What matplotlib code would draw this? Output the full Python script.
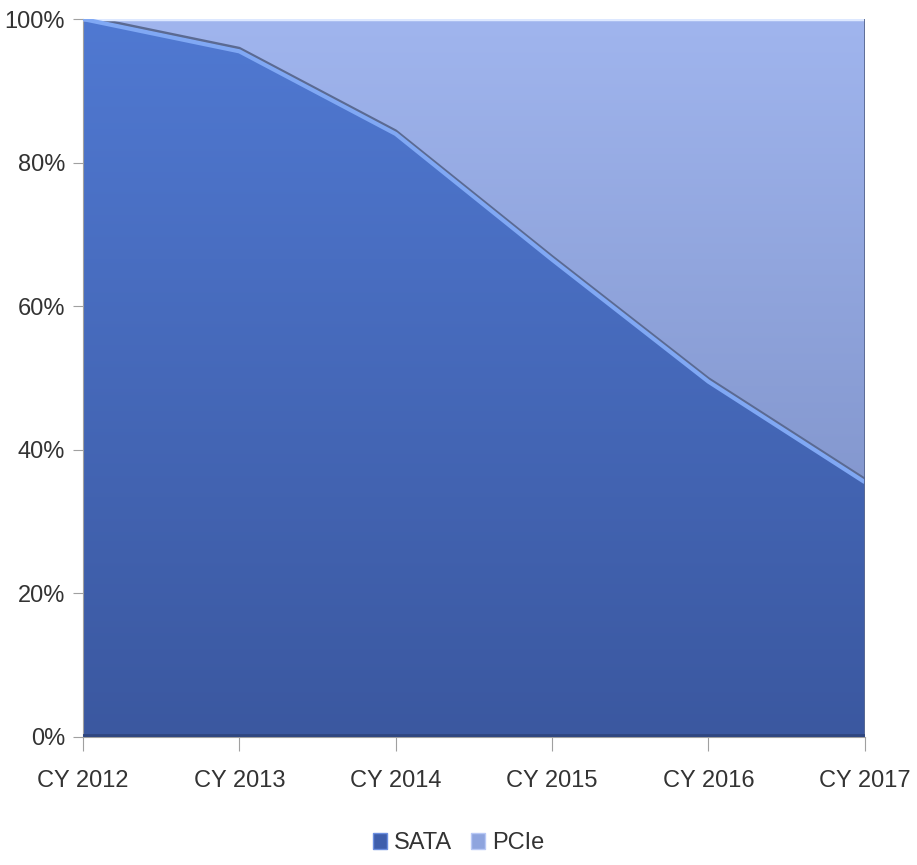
import matplotlib
matplotlib.use("Agg")
import matplotlib.pyplot as plt
import matplotlib.transforms as mtransforms
import numpy as np
from matplotlib.colors import LinearSegmentedColormap
from matplotlib.patches import Patch

plt.rcParams["font.family"] = ["Liberation Sans", "DejaVu Sans"]

years = ["CY 2012", "CY 2013", "CY 2014", "CY 2015", "CY 2016", "CY 2017"]
sata = [100, 95.5, 84, 66.5, 49.5, 35.5]
pcie = [0, 4.5, 16, 33.5, 50.5, 64.5]


def gradient_fill(ax, poly, top, bottom):
    cmap = LinearSegmentedColormap.from_list("g", [bottom, top])
    grad = np.linspace(0, 1, 256).reshape(-1, 1)
    im = ax.imshow(grad, cmap=cmap, aspect="auto", origin="lower",
                   extent=[0, len(years) - 1, 0, 100], zorder=poly.get_zorder())
    im.set_clip_path(poly.get_paths()[0], transform=ax.transData)
    poly.set_visible(False)


fig = plt.figure(figsize=(9.17, 8.65), dpi=100)
ax = fig.add_axes([0.0905, 0.148, 0.8525, 0.83])

x = np.arange(len(years))
sata_arr = np.array(sata)
top_arr = sata_arr + np.array(pcie)

p_pcie = ax.fill_between(x, sata_arr, top_arr, zorder=1)
p_sata = ax.fill_between(x, 0, sata_arr, zorder=2)
gradient_fill(ax, p_pcie, "#A0B5EE", "#7588BE")
gradient_fill(ax, p_sata, "#5079D2", "#3B58A0")

# edge shading
up = mtransforms.offset_copy(ax.transData, fig=fig, x=0, y=3, units="dots")
ax.plot(x, sata_arr, color="#5B6A92", lw=2.2, transform=up, zorder=3)
ax.plot(x, sata_arr, color="#80A8F4", lw=3, zorder=4, solid_capstyle="butt")
ax.plot(x, top_arr, color="#DDE8FF", lw=2.5, zorder=3)
ax.plot([x[-1], x[-1]], [0, 100], color="#56668F", lw=2, zorder=4)
ax.plot([x[0], x[-1]], [0.3, 0.3], color="#2F467F", lw=2, zorder=4)

ax.set_xlim(0, len(years) - 1)
ax.set_ylim(0, 100)
ax.set_xticks(x)
ax.set_xticklabels(years)
ax.set_yticks(range(0, 101, 20))
ax.set_yticklabels([f"{v}%" for v in range(0, 101, 20)])
ax.tick_params(axis="x", length=10, color="#A0A0A0", labelsize=17, pad=14, labelcolor="#333333")
ax.tick_params(axis="y", length=7, color="#A0A0A0", labelsize=17, pad=6, labelcolor="#333333")
for side in ("top", "right"):
    ax.spines[side].set_visible(False)
for side in ("left", "bottom"):
    ax.spines[side].set_color("#A0A0A0")

handles = [Patch(facecolor="#3E5EAC", edgecolor="#6C8FE0", label="SATA"),
           Patch(facecolor="#8EA4DE", edgecolor="#B8C8F5", label="PCIe")]
fig.legend(handles=handles, loc="center", bbox_to_anchor=(0.5, 0.025), ncol=2,
           frameon=False, fontsize=17, handlelength=0.6, handleheight=0.7,
           handletextpad=0.3, columnspacing=0.8, labelcolor="#333333")

fig.savefig("out.png", dpi=100)
